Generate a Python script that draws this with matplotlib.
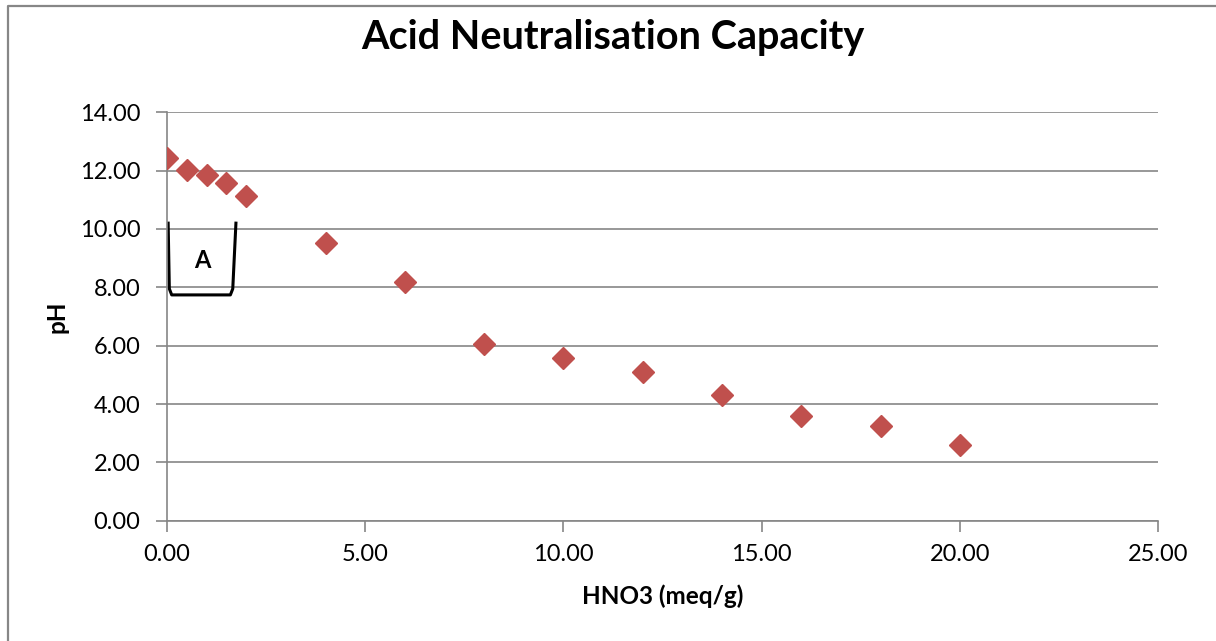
import matplotlib.pyplot as plt
from matplotlib.lines import Line2D

# data
hno3 = [0, 0.5, 1, 1.5, 2, 4, 6, 8, 10, 12, 14, 16, 18, 20]
ph = [12.45, 12.03, 11.84, 11.56, 11.12, 9.53, 8.19, 6.04, 5.56, 5.09, 4.32, 3.60, 3.23, 2.61]
x_ticks = [0, 5, 10, 15, 20, 25]
y_ticks = [0, 2, 4, 6, 8, 10, 12, 14]

plt.rcParams['font.family'] = ['Lato', 'DejaVu Sans']

fig = plt.figure(figsize=(12.16, 6.41), dpi=100)
ax = fig.add_axes([0.1373, 0.1877, 0.8150, 0.6371])

# gray chart border (top and left edges visible)
fig.lines.append(Line2D([7.5/1216, 7.5/1216, 1.0], [0.0, 1 - 5.5/641, 1 - 5.5/641],
                        transform=fig.transFigure, color='#878787', linewidth=1.6))

ax.plot(hno3, ph, linestyle='none', marker='D', markersize=11,
        color='#C0504D', zorder=3)

# bracket "A"
bx = [0.03, 0.06, 0.12, 1.60, 1.66, 1.74]
by = [10.2, 7.95, 7.74, 7.74, 7.95, 10.2]
ax.plot(bx, by, color='black', linewidth=2.2, zorder=2, solid_joinstyle='round')
ax.text(0.9, 8.93, 'A', ha='center', va='center', fontsize=17, fontweight='bold')

ax.set_xlim(0, 25)
ax.set_ylim(0, 14)
ax.set_xticks(x_ticks)
ax.set_yticks(y_ticks)
ax.set_xticklabels([f'{v:.2f}' for v in x_ticks])
ax.set_yticklabels([f'{v:.2f}' for v in y_ticks])
ax.tick_params(axis='both', direction='out', length=8, width=1.2, color='#868686',
               labelsize=17)
ax.tick_params(axis='y', pad=11)
ax.tick_params(axis='x', pad=9)
ax.grid(axis='y', color='#868686', linewidth=1.2)
ax.set_axisbelow(True)
for side in ['top', 'right']:
    ax.spines[side].set_visible(False)
for side in ['left', 'bottom']:
    ax.spines[side].set_color('#868686')
    ax.spines[side].set_linewidth(1.2)

ax.set_xlabel('HNO3 (meq/g)', fontsize=17.5, fontweight='bold', labelpad=14)
ax.set_ylabel('pH', fontsize=17.5, fontweight='bold', labelpad=8)
fig.text(613/1216, 1 - 38/641, 'Acid Neutralisation Capacity', ha='center', va='center',
         fontsize=28.5, fontweight='bold')

plt.savefig('out.png', dpi=100)
